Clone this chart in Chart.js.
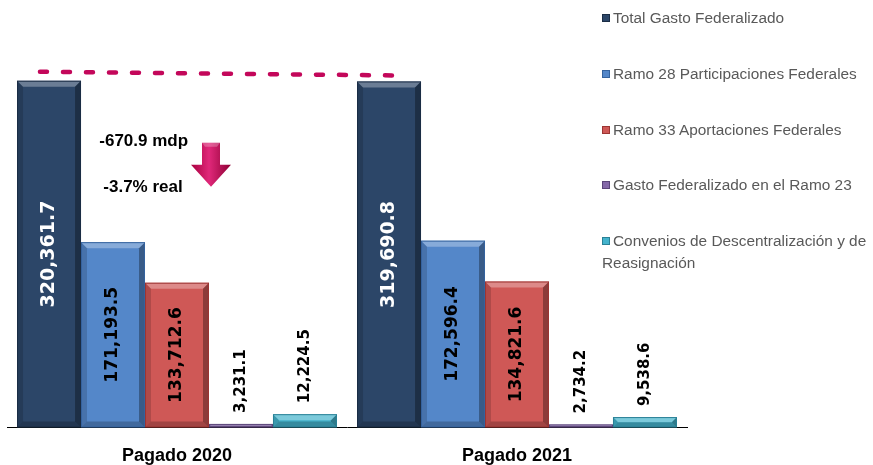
<!DOCTYPE html>
<html>
<head>
<meta charset="utf-8">
<script src="https://cdn.jsdelivr.net/npm/chart.js@4/dist/chart.umd.min.js"></script>
<style>
  html,body{margin:0;padding:0;background:#fff;}
  #wrap{position:relative;width:873px;height:465px;overflow:hidden;}
  #c{position:absolute;left:0;top:0;}
  #legend{position:absolute;left:602px;top:0;width:271px;font-family:"Liberation Sans",Arial,sans-serif;font-size:15.4px;color:#595959;}
  .li{position:absolute;left:0;line-height:22px;width:271px;}
  .li .sw{display:inline-block;width:8px;height:8px;margin-right:3px;vertical-align:1px;}
</style>
</head>
<body>
<div id="wrap">
<canvas id="c" width="873" height="465"></canvas>
<div id="legend"></div>
</div>
<script>
const categories = ['Pagado 2020', 'Pagado 2021'];
const seriesNames = ['Total Gasto Federalizado', 'Ramo 28 Participaciones Federales', 'Ramo 33 Aportaciones Federales', 'Gasto Federalizado en el Ramo 23', 'Convenios de Descentralización y de Reasignación'];
const totalGasto = [320361.7, 319690.8];
const ramo28 = [171193.5, 172596.4];
const ramo33 = [133712.6, 134821.6];
const ramo23 = [3231.1, 2734.2];
const convenios = [12224.5, 9538.6];
const diffText = ['-670.9 mdp', '-3.7% real'];

const colors = ['#2C4668', '#5487C9', '#CF5856', '#8468A8', '#44B3CC'];
const edgeColors = ['#1B2D45', '#35639E', '#9C3533', '#5A4579', '#2A8196'];
const labelStyle = [
  {color:'#ffffff', size:19, mode:'center'},
  {color:'#000000', size:17, mode:'center'},
  {color:'#000000', size:17, mode:'center'},
  {color:'#000000', size:15, mode:'above'},
  {color:'#000000', size:15, mode:'above'}
];

const seriesData = [totalGasto, ramo28, ramo33, ramo23, convenios];

// HTML legend
const leg = document.getElementById('legend');
const legTops = [7, 63, 119, 174, 230];
seriesNames.forEach((n, i) => {
  const d = document.createElement('div');
  d.className = 'li';
  d.style.top = legTops[i] + 'px';
  const sw = document.createElement('span');
  sw.className = 'sw';
  sw.style.background = colors[i];
  sw.style.boxShadow = 'inset 0 0 0 1px ' + edgeColors[i];
  d.appendChild(sw);
  d.appendChild(document.createTextNode(n));
  leg.appendChild(d);
});

function fmt(v){ return v.toLocaleString('en-US', {minimumFractionDigits:1, maximumFractionDigits:1}); }

const bevelPlugin = {
  id: 'bevel',
  afterDatasetsDraw(chart) {
    const ctx = chart.ctx;
    chart.data.datasets.forEach((ds, di) => {
      const meta = chart.getDatasetMeta(di);
      meta.data.forEach(bar => {
        const {x, y, base, width} = bar.getProps(['x','y','base','width'], true);
        const l = x - width/2, r = x + width/2, t = y, b = base;
        const h = b - t;
        const e = Math.min(6, h/2, width/2);
        ctx.save();
        ctx.fillStyle = 'rgba(255,255,255,0.30)';
        ctx.beginPath(); ctx.moveTo(l, t); ctx.lineTo(r, t); ctx.lineTo(r - e, t + e); ctx.lineTo(l + e, t + e); ctx.closePath(); ctx.fill();
        ctx.fillStyle = 'rgba(0,0,0,0.15)';
        ctx.beginPath(); ctx.moveTo(l, t); ctx.lineTo(l + e, t + e); ctx.lineTo(l + e, b - e); ctx.lineTo(l, b); ctx.closePath(); ctx.fill();
        ctx.fillStyle = 'rgba(0,0,0,0.32)';
        ctx.beginPath(); ctx.moveTo(r, t); ctx.lineTo(r - e, t + e); ctx.lineTo(r - e, b - e); ctx.lineTo(r, b); ctx.closePath(); ctx.fill();
        ctx.fillStyle = 'rgba(0,0,0,0.22)';
        ctx.beginPath(); ctx.moveTo(l, b); ctx.lineTo(l + e, b - e); ctx.lineTo(r - e, b - e); ctx.lineTo(r, b); ctx.closePath(); ctx.fill();
        ctx.strokeStyle = edgeColors[di];
        ctx.lineWidth = 1;
        ctx.strokeRect(l + 0.5, t + 0.5, width - 1, h - 1);
        ctx.restore();
      });
    });
  }
};

const labelPlugin = {
  id: 'vlabels',
  afterDatasetsDraw(chart) {
    const ctx = chart.ctx;
    chart.data.datasets.forEach((ds, di) => {
      const meta = chart.getDatasetMeta(di);
      const st = labelStyle[di];
      meta.data.forEach((bar, i) => {
        const {x, y, base} = bar.getProps(['x','y','base'], true);
        ctx.save();
        ctx.font = 'bold ' + st.size + 'px "DejaVu Sans", sans-serif';
        ctx.fillStyle = st.color;
        ctx.textBaseline = 'middle';
        const txt = fmt(ds.data[i]);
        if (st.mode === 'center') {
          ctx.translate(x, (y + base) / 2);
          ctx.rotate(-Math.PI / 2);
          ctx.textAlign = 'center';
          ctx.fillText(txt, 0, 0);
        } else {
          ctx.translate(x, y - 11);
          ctx.rotate(-Math.PI / 2);
          ctx.textAlign = 'left';
          ctx.fillText(txt, 0, 0);
        }
        ctx.restore();
      });
    });
  }
};

const annoPlugin = {
  id: 'anno',
  afterDraw(chart) {
    const ctx = chart.ctx;
    const xs = chart.scales.x, ys = chart.scales.y;
    const x0 = xs.getPixelForValue(0), x1 = xs.getPixelForValue(1);
    const cw = x1 - x0;
    const yTop = ys.getPixelForValue(totalGasto[0]);
    ctx.save();
    ctx.strokeStyle = '#C3075A';
    ctx.lineWidth = 4.5;
    ctx.lineCap = 'round';
    ctx.setLineDash([7, 16]);
    ctx.beginPath();
    ctx.moveTo(x0 - cw * 0.403, yTop - 9);
    ctx.lineTo(x1 - cw * 0.36, ys.getPixelForValue(totalGasto[1]) - 6);
    ctx.stroke();
    ctx.restore();
    ctx.save();
    ctx.font = 'bold 17px "Liberation Sans", Arial, sans-serif';
    ctx.fillStyle = '#000';
    ctx.textAlign = 'center';
    ctx.textBaseline = 'alphabetic';
    ctx.fillText(diffText[0], x0 - cw * 0.098, yTop + 65);
    ctx.fillText(diffText[1], x0 - cw * 0.1, yTop + 111);
    ctx.restore();
    const ax = x0 + cw * 0.1, at = yTop + 62;
    const sw = 9, hw = 20, hb = at + 22, tip = at + 44;
    ctx.save();
    const g = ctx.createLinearGradient(ax - hw, 0, ax + hw, 0);
    g.addColorStop(0, '#A8003E');
    g.addColorStop(0.45, '#E0287A');
    g.addColorStop(1, '#8E0034');
    ctx.fillStyle = g;
    ctx.beginPath();
    ctx.moveTo(ax - sw, at); ctx.lineTo(ax + sw, at); ctx.lineTo(ax + sw, hb);
    ctx.lineTo(ax + hw, hb); ctx.lineTo(ax, tip); ctx.lineTo(ax - hw, hb);
    ctx.lineTo(ax - sw, hb); ctx.closePath();
    ctx.fill();
    ctx.fillStyle = 'rgba(255,255,255,0.25)';
    ctx.beginPath();
    ctx.moveTo(ax - sw, at); ctx.lineTo(ax + sw, at); ctx.lineTo(ax + sw - 3, at + 4); ctx.lineTo(ax - sw + 3, at + 4); ctx.closePath();
    ctx.fill();
    ctx.restore();
  }
};

new Chart(document.getElementById('c'), {
  type: 'bar',
  data: {
    labels: categories,
    datasets: seriesData.map((d, i) => ({
      label: seriesNames[i],
      data: d,
      backgroundColor: colors[i],
      borderWidth: 0,
      categoryPercentage: 0.941,
      barPercentage: 1
    }))
  },
  options: {
    responsive: false,
    animation: false,
    events: [],
    layout: { padding: { left: 7, right: 186, top: 40, bottom: -20 } },
    plugins: { legend: { display: false }, tooltip: { enabled: false } },
    scales: {
      x: {
        grid: { display: false, drawTicks: false },
        border: { display: true, color: '#000', width: 1 },
        ticks: { color: '#000', padding: 18, font: { family: '"Liberation Sans", Arial, sans-serif', size: 18, weight: 'bold' } }
      },
      y: { display: false, min: 0, max: 358000 }
    }
  },
  plugins: [bevelPlugin, labelPlugin, annoPlugin]
});
</script>
</body>
</html>
